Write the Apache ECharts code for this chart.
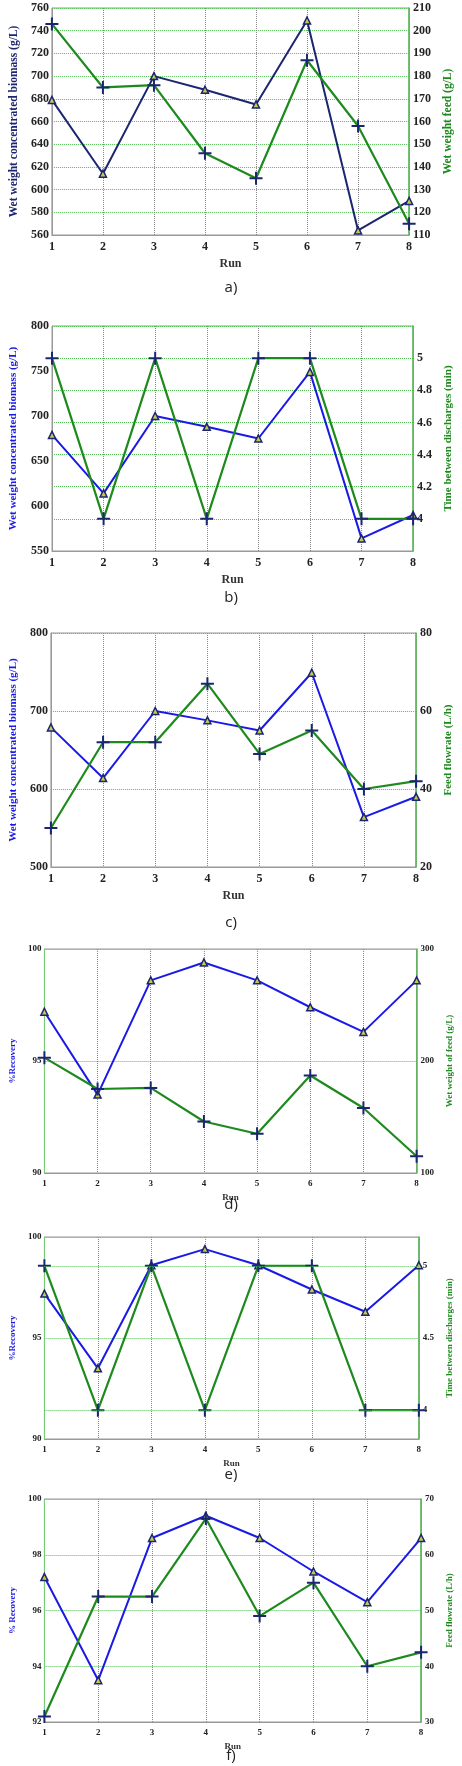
<!DOCTYPE html>
<html><head><meta charset="utf-8">
<script src="https://cdn.jsdelivr.net/npm/echarts@6/dist/echarts.min.js"></script>
<style>html,body{margin:0;padding:0;background:#fff}#c{width:462px;height:1766px}</style>
</head><body><div id="c"></div>
<script>
var runs = [1,2,3,4,5,6,7,8];
var biomass = [679,614,700,688,675,749,564,590];
var feedWeight = [203,175,176,146,135,187,158,115];
var timeDischarge = [5,4,5,4,5,5,4,4];
var feedFlow = [30,52,52,67,49,55,40,42];
var feedFlowF = [31,52.5,52.5,66.5,49,55,40,42.5];
var recovery = [97.2,93.5,98.6,99.4,98.6,97.4,96.3,98.6];
var captions = ['a)','b)','c)','d)','e)','f)'];

var NAVY='#1b2670', BLUE='#1a1ae6', GREEN='#1e8a1e';
var PLUS='path://M0,-10 L0,10 M-10,0 L10,0';
var serif='Liberation Serif';

var panels = [
 {box:[39,423,8,235], cap:285, left:{min:560,max:760,interval:20,name:'Wet weight concentrated biomass (g/L)',data:biomass}, right:{min:110,max:210,interval:10,name:'Wet weight feed (g/L)',data:feedWeight}, lc:NAVY, hsplit:'left', fs:12, nfs:11.5},
 {box:[41,424,326,551], cap:595, left:{min:550,max:800,interval:50,name:'Wet weight concentrated biomass (g/L)',data:biomass}, right:{min:3.8,max:5.2,interval:0.2,name:'Time between discharges (min)',data:timeDischarge,hideEnds:true}, lc:BLUE, hsplit:'right', fs:12, nfs:11},
 {box:[39,427,633,867], cap:920, left:{min:500,max:800,interval:100,name:'Wet weight concentrated biomass (g/L)',data:biomass}, right:{min:20,max:80,interval:20,name:'Feed flowrate (L/h)',data:feedFlow}, lc:BLUE, hsplit:'left', fs:12, nfs:11},
 {box:[32,425,949,1173], cap:1202, left:{min:90,max:100,interval:5,name:'%Recovery',data:recovery}, right:{min:100,max:300,interval:100,name:'Wet weight of feed (g/L)',data:feedWeight}, lc:BLUE, hsplit:'left', fs:9, nfs:9},
 {box:[28,428,1237,1439], cap:1472, left:{min:90,max:100,interval:5,name:'%Recovery',data:recovery}, right:{min:3.8,max:5.2,interval:0.1,name:'Time between discharges (min)',data:timeDischarge,labels:[4,4.5,5],marks:[4,5]}, lc:BLUE, hsplit:'left', fs:9, nfs:9},
 {box:[33,433,1499,1722], cap:1753, left:{min:92,max:100,interval:2,name:'% Recovery',data:recovery}, right:{min:30,max:70,interval:10,name:'Feed flowrate (L/h)',data:feedFlowF}, lc:BLUE, hsplit:'left', fs:9, nfs:9}
];

var grid=[],xAxis=[],yAxis=[],series=[],title=[];
var W=462;
panels.forEach(function(p,i){
  var b=p.box;
  grid.push({left:b[0],top:b[2],width:b[1]-b[0],height:b[3]-b[2],show:true,borderColor:'#999',borderWidth:1});
  xAxis.push({type:'value',gridIndex:i,min:1,max:8,interval:1,name:'Run',nameLocation:'middle',nameGap:p.fs+11,
    nameTextStyle:{fontFamily:serif,fontWeight:'bold',fontSize:p.fs,color:'#333'},
    axisLine:{lineStyle:{color:'#999'}},axisTick:{show:false},
    axisLabel:{fontFamily:serif,fontWeight:'bold',fontSize:p.fs,color:'#222',margin:6},
    splitLine:{show:true,lineStyle:{type:'dotted',color:'#888'}}});
  var dotted={show:true,lineStyle:{type:'dotted',color:'#55c055'}};
  var nameGapL = b[0]-8;
  yAxis.push({type:'value',gridIndex:i,min:p.left.min,max:p.left.max,interval:p.left.interval,position:'left',
    name:p.left.name,nameLocation:'middle',nameGap:nameGapL,nameRotate:90,
    nameTextStyle:{fontFamily:serif,fontWeight:'bold',fontSize:p.nfs,color:p.lc},
    axisLine:{show:true,lineStyle:{color:i>=3?'#7c7':'#999'}},axisTick:{show:false},
    axisLabel:{fontFamily:serif,fontWeight:'bold',fontSize:p.fs,color:'#222',margin:3},
    splitLine:p.hsplit==='left'?dotted:{show:false}});
  var r=p.right;
  var lab={fontFamily:serif,fontWeight:'bold',fontSize:p.fs,color:'#222',margin:4};
  if(r.hideEnds){lab.showMinLabel=false;lab.showMaxLabel=false;lab.formatter=function(v){return +v.toFixed(1);};}
  if(r.labels){lab.customValues=r.labels;lab.formatter=function(v){return +(+v).toFixed(1);};}
  yAxis.push({type:'value',gridIndex:i,min:r.min,max:r.max,interval:r.interval,position:'right',
    name:r.name,nameLocation:'middle',nameGap:W-b[1]-9,nameRotate:90,
    nameTextStyle:{fontFamily:serif,fontWeight:'bold',fontSize:p.nfs,color:GREEN},
    axisLine:{show:true,lineStyle:{color:'#5b5',width:1.5}},axisTick:{show:false},
    axisLabel:lab,
    splitLine:p.hsplit==='right'?dotted:{show:false}});
  series.push({type:'line',xAxisIndex:i,yAxisIndex:2*i,data:runs.map(function(x,k){return [x,p.left.data[k]];}),
    lineStyle:{color:p.lc,width:2},symbol:'triangle',symbolSize:7,
    itemStyle:{color:'#c8c850',borderColor:NAVY,borderWidth:1.5},z:3});
  var g={type:'line',xAxisIndex:i,yAxisIndex:2*i+1,data:runs.map(function(x,k){return [x,r.data[k]];}),
    lineStyle:{color:GREEN,width:2.2},symbol:PLUS,symbolSize:13,
    itemStyle:{color:NAVY,borderColor:NAVY,borderWidth:2},z:4};
  if(r.marks){g.markLine={silent:true,symbol:'none',label:{show:false},lineStyle:{type:'dotted',color:'#55c055',width:1},data:r.marks.map(function(v){return {yAxis:v};})};}
  series.push(g);
  title.push({text:captions[i],left:'center',top:p.cap-10,textStyle:{fontFamily:'Open Sans',fontWeight:'normal',fontSize:15,color:'#222'}});
});

var chart=echarts.init(document.getElementById('c'),null,{renderer:'canvas'});
chart.setOption({animation:false,title:title,grid:grid,xAxis:xAxis,yAxis:yAxis,series:series});
</script></body></html>
